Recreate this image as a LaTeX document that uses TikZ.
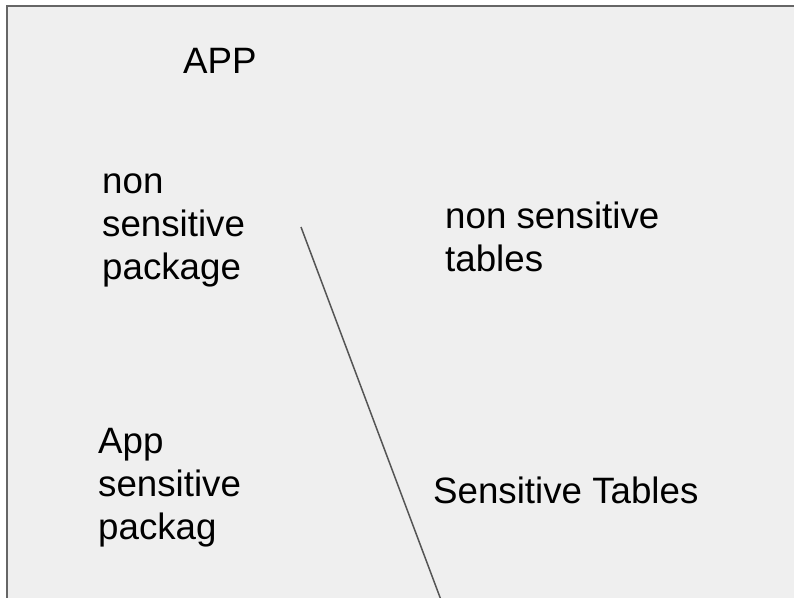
\documentclass[tikz,border=0pt]{standalone}
\usepackage{fontspec}
\setmainfont{Liberation Sans}
\definecolor{panelfill}{HTML}{EFEFEF}
\definecolor{panelborder}{HTML}{666666}
\definecolor{dividerline}{HTML}{555555}
% multi-line labels are anchored on the baseline of their last line
\tikzset{
  label text/.style={anchor=base west, inner sep=0pt, align=left,
    font=\fontsize{36.7}{43}\selectfont, text=black},
}
\begin{document}
\begin{tikzpicture}[x=1pt, y=-1pt]
  \useasboundingbox (0,0) rectangle (794,597);
  \clip (0,0) rectangle (794,597);
  % background panel, running off the right and bottom edges
  \draw[panelborder, line width=2pt, fill=panelfill] (7,6) rectangle (810,620);
  % divider
  \coordinate (divtop) at (301,227);
  \coordinate (divbot) at (441,600);
  \draw[dividerline, line width=1.5pt] (divtop) -- (divbot);
  % labels
  \node[label text] (app) at (183,73) {APP};
  \node[label text] (nspkg) at (102,279) {non\\sensitive\\package};
  \node[label text] (nstab) at (445,271) {non sensitive\\tables};
  \node[label text] (spkg) at (98,539) {App\\sensitive\\packag};
  \node[label text] (stab) at (433,503) {Sensitive Tables};
\end{tikzpicture}
\end{document}
